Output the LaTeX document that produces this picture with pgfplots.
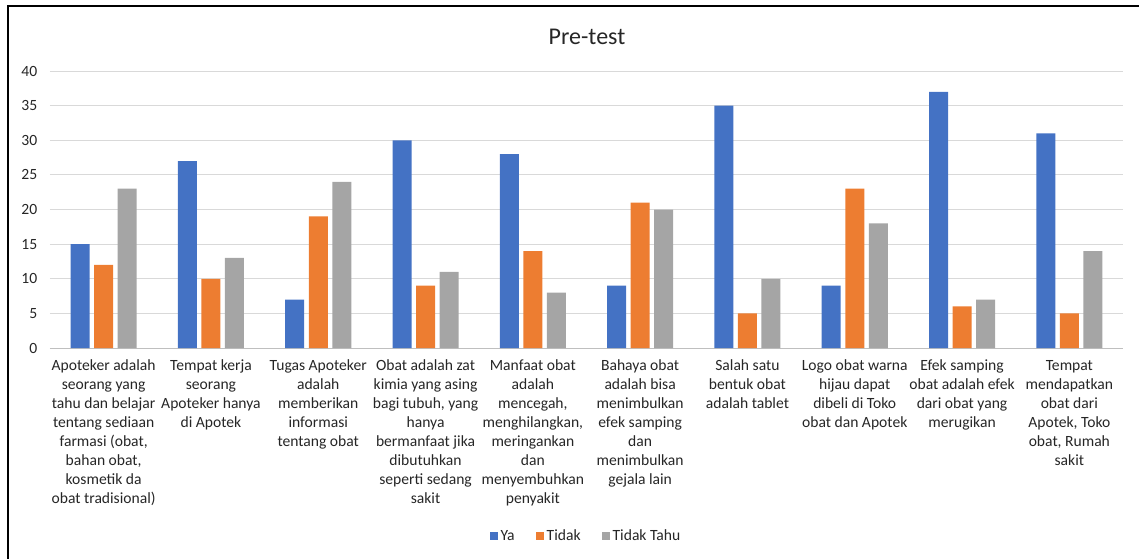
\documentclass[border=0pt]{standalone}
\usepackage{pgfplots}
\pgfplotsset{compat=1.18}
\usepackage{fontspec}
\setmainfont{Carlito}
\definecolor{cblue}{HTML}{4472C4}
\definecolor{corange}{HTML}{ED7D31}
\definecolor{cgray}{HTML}{A5A5A5}
\definecolor{cgrid}{HTML}{D9D9D9}
\definecolor{caxis}{HTML}{BFBFBF}
\definecolor{ctext}{HTML}{262626}
\begin{document}
\begin{tikzpicture}[x=1pt,y=1pt]
\useasboundingbox (-37.5,-157.5) rectangle (816.75,261);
\begin{axis}[
  at={(0,0)}, anchor=south west,
  width=804.75pt, height=207.75pt, scale only axis,
  ybar=3.4pt, bar width=14.25pt,
  xmin=-0.5, xmax=9.5, ymin=0, ymax=40,
  ytick={0,5,...,40},
  xtick=data,
  xticklabels={
    {Apoteker adalah\\seorang yang\\tahu dan belajar\\tentang sediaan\\farmasi (obat,\\bahan obat,\\kosmetik da\\obat tradisional)},
    {Tempat kerja\\seorang\\Apoteker hanya\\di Apotek},
    {Tugas Apoteker\\adalah\\memberikan\\informasi\\tentang obat},
    {Obat adalah zat\\kimia yang asing\\bagi tubuh, yang\\hanya\\bermanfaat jika\\dibutuhkan\\seperti sedang\\sakit},
    {Manfaat obat\\adalah\\mencegah,\\menghilangkan,\\meringankan\\dan\\menyembuhkan\\penyakit},
    {Bahaya obat\\adalah bisa\\menimbulkan\\efek samping\\dan\\menimbulkan\\gejala lain},
    {Salah satu\\bentuk obat\\adalah tablet},
    {Logo obat warna\\hijau dapat\\dibeli di Toko\\obat dan Apotek},
    {Efek samping\\obat adalah efek\\dari obat yang\\merugikan},
    {Tempat\\mendapatkan\\obat dari\\Apotek, Toko\\obat, Rumah\\sakit}},
  xticklabel style={align=center, font=\fontsize{11.7}{14.25}\selectfont, text=ctext, anchor=north, yshift=0pt},
  yticklabel style={font=\fontsize{11.7}{13}\selectfont, text=ctext},
  /pgf/number format/assume math mode=true,
  major tick length=0pt,
  ymajorgrids, grid style={cgrid, line width=0.75pt},
  axis x line*=bottom, axis y line*=left,
  x axis line style={caxis, line width=0.75pt, -},
  y axis line style={draw=none},
  xticklabel shift=5.5pt, yticklabel shift=6pt,
  legend style={at={(0.5,-0.679)}, anchor=center, draw=none, legend columns=3,
    font=\fontsize{11.7}{13}\selectfont, text=ctext,
    /tikz/every even column/.append style={column sep=14pt}},
  legend image code/.code={\fill[#1] (0pt,-3pt) rectangle (6pt,3pt);},
  clip=false,
]
\addplot[fill=cblue, draw=none] coordinates {(0,15) (1,27) (2,7) (3,30) (4,28) (5,9) (6,35) (7,9) (8,37) (9,31)};
\addplot[fill=corange, draw=none] coordinates {(0,12) (1,10) (2,19) (3,9) (4,14) (5,21) (6,5) (7,23) (8,6) (9,5)};
\addplot[fill=cgray, draw=none] coordinates {(0,23) (1,13) (2,24) (3,11) (4,8) (5,20) (6,10) (7,18) (8,7) (9,14)};
\legend{Ya, Tidak, Tidak Tahu}
\end{axis}
\node[font=\fontsize{18}{20}\selectfont, text=ctext] at (402.75,233.25) {Pre-test};
\draw[line width=1.5pt] (-31.5,-160) -- (-31.5,256.5) -- (820,256.5);
\end{tikzpicture}
\end{document}
